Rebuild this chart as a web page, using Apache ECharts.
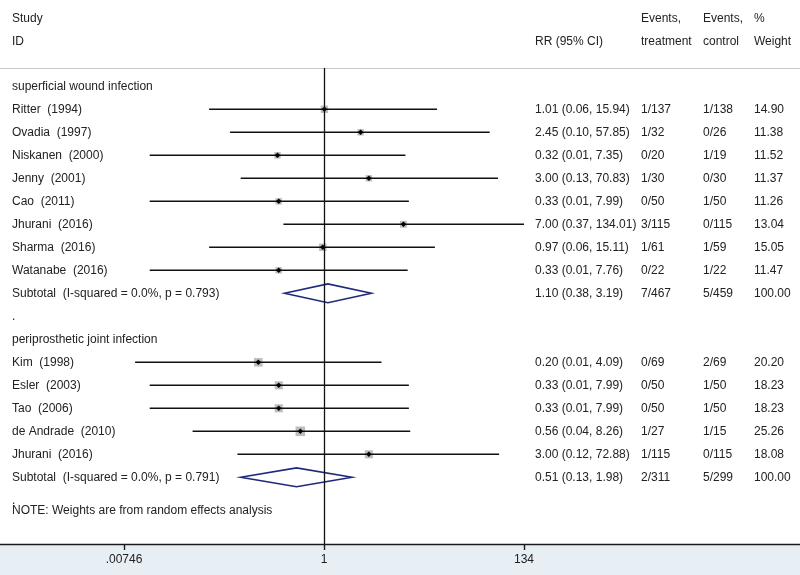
<!DOCTYPE html>
<html><head><meta charset="utf-8">
<script src="https://cdn.jsdelivr.net/npm/echarts@6/dist/echarts.min.js"></script>
<style>html,body{margin:0;padding:0;background:#fff}#c{width:800px;height:575px}</style>
</head><body><div id="c"></div>
<script>
// ---------------- data ----------------
const groupNames = ['superficial wound infection', 'periprosthetic joint infection'];
const groupRows = [0, 11];
const studies = ['Ritter  (1994)', 'Ovadia  (1997)', 'Niskanen  (2000)', 'Jenny  (2001)', 'Cao  (2011)', 'Jhurani  (2016)', 'Sharma  (2016)', 'Watanabe  (2016)',
                 'Kim  (1998)', 'Esler  (2003)', 'Tao  (2006)', 'de Andrade  (2010)', 'Jhurani  (2016)'];
const studyRows = [1, 2, 3, 4, 5, 6, 7, 8, 12, 13, 14, 15, 16];
const rr = [1.01, 2.45, 0.32, 3.00, 0.33, 7.00, 0.97, 0.33, 0.20, 0.33, 0.33, 0.56, 3.00];
const ciLow = [0.06, 0.10, 0.014, 0.13, 0.014, 0.37, 0.06, 0.014, 0.0098, 0.014, 0.014, 0.04, 0.12];
const ciHigh = [15.94, 57.85, 7.35, 70.83, 7.99, 134.01, 15.11, 7.76, 4.09, 7.99, 7.99, 8.26, 72.88];
const ciText = ['1.01 (0.06, 15.94)', '2.45 (0.10, 57.85)', '0.32 (0.01, 7.35)', '3.00 (0.13, 70.83)', '0.33 (0.01, 7.99)', '7.00 (0.37, 134.01)',
                '0.97 (0.06, 15.11)', '0.33 (0.01, 7.76)', '0.20 (0.01, 4.09)', '0.33 (0.01, 7.99)', '0.33 (0.01, 7.99)', '0.56 (0.04, 8.26)', '3.00 (0.12, 72.88)'];
const eventsTreat = ['1/137', '1/32', '0/20', '1/30', '0/50', '3/115', '1/61', '0/22', '0/69', '0/50', '0/50', '1/27', '1/115'];
const eventsCtrl = ['1/138', '0/26', '1/19', '0/30', '1/50', '0/115', '1/59', '1/22', '2/69', '1/50', '1/50', '1/15', '0/115'];
const weights = [14.90, 11.38, 11.52, 11.37, 11.26, 13.04, 15.05, 11.47, 20.20, 18.23, 18.23, 25.26, 18.08];

const subLabels = ['Subtotal  (I-squared = 0.0%, p = 0.793)', 'Subtotal  (I-squared = 0.0%, p = 0.791)'];
const subRows = [9, 17];
const subRR = [1.10, 0.51];
const subLow = [0.38, 0.13];
const subHigh = [3.19, 1.98];
const subCiText = ['1.10 (0.38, 3.19)', '0.51 (0.13, 1.98)'];
const subTreat = ['7/467', '2/311'];
const subCtrl = ['5/459', '5/299'];
const subWeight = ['100.00', '100.00'];

const dotRows = [10, 18];
const noteText = 'NOTE: Weights are from random effects analysis';
const noteRow = 18.47;

const headerRows = [-2.93, -1.93];
const headers = [
  ['Study', 'label', 0], ['ID', 'label', 1],
  ['RR (95% CI)', 'ci', 1],
  ['Events,', 'treat', 0], ['treatment', 'treat', 1],
  ['Events,', 'ctrl', 0], ['control', 'ctrl', 1],
  ['%', 'wt', 0], ['Weight', 'wt', 1]
];

const tickValues = [0.00746, 1, 134];
const tickLabels = ['.00746', '1', '134'];

// ---------------- layout ----------------
const FONT = 'Liberation Sans, Arial, Helvetica, sans-serif';
const rowH = 23, row0 = 86.3, axisY = 544, headY = 68;
const yMax = (axisY - row0) / rowH;
const yMinText = (0 - row0) / rowH;
const yMinPlot = (headY - row0) / rowH;
const col = { label: 12, ci: 535, treat: 641, ctrl: 703, wt: 754 };

// build text items
const textItems = [];
headers.forEach(h => textItems.push([col[h[1]], headerRows[h[2]], h[0]]));
groupNames.forEach((g, i) => textItems.push([col.label, groupRows[i], g]));
studies.forEach((s, i) => {
  const r = studyRows[i];
  textItems.push([col.label, r, s]);
  textItems.push([col.ci, r, ciText[i]]);
  textItems.push([col.treat, r, eventsTreat[i]]);
  textItems.push([col.ctrl, r, eventsCtrl[i]]);
  textItems.push([col.wt, r, weights[i].toFixed(2)]);
});
subLabels.forEach((s, i) => {
  const r = subRows[i];
  textItems.push([col.label, r, s]);
  textItems.push([col.ci, r, subCiText[i]]);
  textItems.push([col.treat, r, subTreat[i]]);
  textItems.push([col.ctrl, r, subCtrl[i]]);
  textItems.push([col.wt, r, subWeight[i]]);
});
dotRows.forEach(r => textItems.push([col.label, r, '.']));
textItems.push([col.label, noteRow, noteText]);

const studyData = rr.map((v, i) => [v, studyRows[i], ciLow[i], ciHigh[i], weights[i]]);
const subData = subRR.map((v, i) => [v, subRows[i], subLow[i], subHigh[i]]);

const chart = echarts.init(document.getElementById('c'));
const option = {
  animation: false,
  backgroundColor: '#ffffff',
  graphic: [
    { type: 'rect', z: -100, shape: { x: 0, y: axisY, width: 800, height: 575 - axisY }, style: { fill: '#e7eff5' } },
    { type: 'line', z: -100, shape: { x1: 0, y1: headY + 0.5, x2: 800, y2: headY + 0.5 }, style: { stroke: '#c8c8c8', lineWidth: 1.2 } }
  ],
  grid: [
    { left: 0, right: 0, top: 0, bottom: 575 - axisY },
    { left: 124, right: 800 - 524, top: headY, bottom: 575 - axisY }
  ],
  xAxis: [
    { gridIndex: 0, type: 'value', min: 0, max: 800, position: 'bottom',
      axisLine: { show: true, onZero: false, lineStyle: { color: '#1a1a1a', width: 1.3 } },
      axisTick: { show: false }, axisLabel: { show: false }, splitLine: { show: false } },
    { gridIndex: 1, type: 'log', logBase: 10, min: tickValues[0], max: tickValues[2], position: 'bottom',
      axisLine: { show: false, onZero: false },
      axisTick: { show: true, length: 6, customValues: tickValues, lineStyle: { color: '#1a1a1a', width: 1.4 } },
      axisLabel: { show: true, customValues: tickValues, margin: 10, color: '#222', fontSize: 12, fontFamily: FONT,
        formatter: v => { const k = tickValues.findIndex(t => Math.abs(Math.log10(t) - Math.log10(v)) < 1e-3); return k >= 0 ? tickLabels[k] : ''; } },
      splitLine: { show: false } }
  ],
  yAxis: [
    { gridIndex: 0, type: 'value', inverse: true, min: yMinText, max: yMax, show: false },
    { gridIndex: 1, type: 'value', inverse: true, min: yMinPlot, max: yMax, show: false }
  ],
  series: [
    {
      type: 'custom', xAxisIndex: 0, yAxisIndex: 0, silent: true,
      data: textItems.map(t => [t[0], t[1]]),
      renderItem: (params, api) => {
        const p = api.coord([api.value(0), api.value(1)]);
        return { type: 'text', x: p[0], y: p[1],
          style: { text: textItems[params.dataIndex][2], fill: '#222', fontSize: 12, fontFamily: FONT, align: 'left', verticalAlign: 'middle' } };
      }
    },
    {
      type: 'custom', xAxisIndex: 1, yAxisIndex: 1, silent: true, clip: false,
      data: studyData,
      renderItem: (params, api) => {
        const y = api.value(1);
        const c = api.coord([api.value(0), y]);
        const l = api.coord([api.value(2), y]);
        const h = api.coord([api.value(3), y]);
        const s = 1.9 * Math.sqrt(api.value(4));
        const d = 2.8;
        return { type: 'group', children: [
          { type: 'rect', shape: { x: c[0] - s / 2, y: c[1] - s / 2, width: s, height: s }, style: { fill: '#bdbdbd' } },
          { type: 'line', shape: { x1: l[0], y1: l[1], x2: h[0], y2: h[1] }, style: { stroke: '#111', lineWidth: 1.5 } },
          { type: 'polygon', shape: { points: [[c[0] - d, c[1]], [c[0], c[1] - d], [c[0] + d, c[1]], [c[0], c[1] + d]] }, style: { fill: '#000' } }
        ] };
      },
      markLine: { silent: true, symbol: ['none', 'none'], label: { show: false },
        lineStyle: { color: '#111', width: 1.3, type: 'solid' }, data: [{ xAxis: 1 }] }
    },
    {
      type: 'custom', xAxisIndex: 1, yAxisIndex: 1, silent: true, clip: false,
      data: subData,
      renderItem: (params, api) => {
        const y = api.value(1), dh = 0.41;
        const l = api.coord([api.value(2), y]);
        const t = api.coord([api.value(0), y - dh]);
        const r = api.coord([api.value(3), y]);
        const b = api.coord([api.value(0), y + dh]);
        return { type: 'polygon', shape: { points: [l, t, r, b] }, style: { fill: 'none', stroke: '#1f2b7a', lineWidth: 1.6 } };
      }
    }
  ]
};
chart.setOption(option);
</script>
</body></html>
